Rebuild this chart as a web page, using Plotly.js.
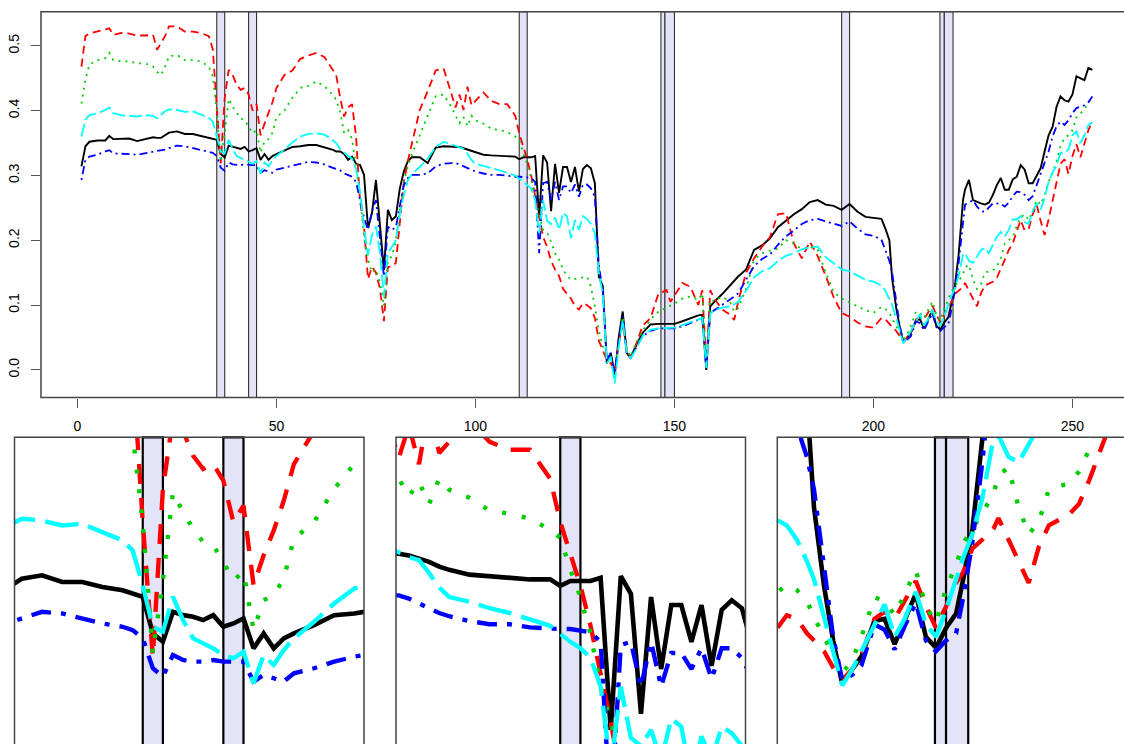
<!DOCTYPE html>
<html>
<head>
<meta charset="utf-8">
<script src="https://cdn.plot.ly/plotly-3.0.1.min.js"></script>
<style>
html,body{margin:0;padding:0;overflow:hidden;background:#fff;}
#chart{width:1140px;height:800px;}
</style>
</head>
<body>
<div id="chart"></div>
<script>
// ---- data (index along spectrum, five series) ----
const X = [1,2,3,5,7,8,9,11,13,15,17,19,20,21,22,23,25,27,29,31,33,34,
35,36,37,38,39,40,41,42,43,44,45,46,47,48,49,50,
52,54,56,58,60,62,64,
65,66,67,68,69,70,71,72,73,74,75,76,77,78,79,80,81,82,83,84,
86,88,90,92,94,
95,96,97,98,99,100,
102,104,106,108,110,
111,112,113,114,115,116,117,118,119,120,121,122,123,124,125,126,127,128,129,130,131,132,133,134,135,136,137,138,139,140,
142,144,146,147,148,149,150,152,154,156,157,158,159,160,162,164,165,166,168,
170,172,174,176,178,180,182,184,186,188,190,192,194,196,198,200,202,
203,204,204.7,205.7,206.6,207.5,208.5,209.4,210.7,211.7,212.7,213.7,214.8,215.8,216.8,217.8,218.8,219.5,220.4,221.4,222.5,
223,224,225,226,227,228,229,230,231,232,233,234,235,236,237,238,239,240,241,242,243,244,245,246,247,248,249,250,251,252,253,254,255];

const S1_BLACK = [0.314,0.345,0.352,0.354,0.354,0.361,0.356,0.356,0.357,0.353,0.356,0.359,0.358,0.358,0.362,0.366,0.368,0.364,0.364,0.361,0.359,0.357,
0.355,0.333,0.328,0.346,0.344,0.343,0.341,0.344,0.337,0.339,0.342,0.324,0.333,0.324,0.330,0.333,
0.338,0.344,0.345,0.347,0.347,0.344,0.340,
0.337,0.337,0.333,0.324,0.329,0.318,0.316,0.301,0.219,0.242,0.293,0.226,0.154,0.247,0.231,0.237,0.280,0.306,0.322,0.328,
0.328,0.319,0.343,0.345,0.345,
0.345,0.344,0.342,0.340,0.337,0.335,
0.332,0.331,0.330,0.329,0.329,
0.325,0.328,0.328,0.328,0.330,0.235,0.331,0.320,0.245,0.318,0.273,0.313,0.313,0.290,0.313,0.275,0.310,0.316,0.311,0.288,0.144,0.129,0.010,0.026,-0.008,0.050,0.090,0.026,0.018,0.033,
0.057,0.070,0.071,0.071,0.071,0.071,0.071,0.075,0.080,0.084,0.085,0.000,0.098,0.105,0.117,0.130,0.136,0.144,0.155,
0.185,0.192,0.203,0.220,0.230,0.240,0.248,0.259,0.262,0.255,0.253,0.247,0.256,0.244,0.236,0.234,0.233,
0.218,0.200,0.140,0.096,0.066,0.042,0.050,0.057,0.077,0.078,0.064,0.077,0.092,0.068,0.062,0.073,0.081,0.100,0.127,0.178,0.262,
0.278,0.293,0.262,0.259,0.257,0.255,0.258,0.270,0.285,0.296,0.278,0.278,0.294,0.298,0.316,0.309,0.288,0.288,0.300,0.311,
0.337,0.362,0.375,0.406,0.422,0.416,0.414,0.425,0.453,0.450,0.447,0.466,0.463];

const S2_RED = [0.468,0.515,0.519,0.522,0.525,0.527,0.517,0.520,0.519,0.516,0.516,0.517,0.494,0.505,0.515,0.530,0.530,0.522,0.522,0.520,0.515,0.495,
0.400,0.319,0.420,0.463,0.455,0.440,0.432,0.435,0.425,0.400,0.410,0.362,0.380,0.395,0.413,0.435,
0.455,0.462,0.480,0.485,0.489,0.483,0.465,
0.455,0.420,0.391,0.405,0.410,0.360,0.260,0.221,0.140,0.159,0.150,0.125,0.075,0.159,0.159,0.165,0.225,0.290,0.322,0.350,
0.401,0.430,0.462,0.465,0.425,
0.405,0.425,0.401,0.437,0.408,0.415,
0.428,0.415,0.410,0.410,0.392,
0.365,0.345,0.325,0.300,0.270,0.240,0.205,0.190,0.168,0.155,0.145,0.125,0.118,0.110,0.098,0.093,0.103,0.100,0.095,0.080,0.045,0.031,0.015,0.010,-0.003,0.040,0.072,0.032,0.020,0.033,
0.068,0.080,0.118,0.120,0.123,0.105,0.115,0.134,0.128,0.100,0.123,0.005,0.123,0.110,0.093,0.085,0.077,0.105,0.150,
0.172,0.190,0.205,0.240,0.242,0.195,0.172,0.198,0.175,0.145,0.112,0.088,0.082,0.073,0.067,0.065,0.080,
0.078,0.070,0.066,0.060,0.051,0.044,0.050,0.058,0.078,0.082,0.078,0.088,0.099,0.085,0.073,0.085,0.098,0.104,0.117,0.122,0.128,
0.134,0.122,0.110,0.098,0.118,0.130,0.133,0.136,0.142,0.155,0.170,0.185,0.195,0.214,0.231,0.215,0.218,0.240,0.255,0.230,
0.208,0.232,0.262,0.292,0.318,0.325,0.302,0.330,0.348,0.328,0.350,0.370,0.383];

const S3_GREEN = [0.411,0.448,0.471,0.478,0.481,0.489,0.478,0.476,0.476,0.473,0.473,0.468,0.460,0.455,0.468,0.484,0.486,0.478,0.478,0.476,0.468,0.453,
0.400,0.321,0.365,0.418,0.406,0.396,0.388,0.386,0.376,0.365,0.370,0.335,0.353,0.356,0.366,0.390,
0.400,0.420,0.435,0.438,0.445,0.438,0.425,
0.417,0.398,0.365,0.370,0.356,0.314,0.270,0.205,0.170,0.150,0.155,0.135,0.098,0.170,0.175,0.200,0.250,0.290,0.314,0.332,
0.362,0.395,0.422,0.425,0.405,
0.392,0.381,0.390,0.376,0.392,0.385,
0.380,0.372,0.370,0.367,0.360,
0.355,0.335,0.318,0.295,0.262,0.240,0.216,0.212,0.198,0.180,0.170,0.155,0.145,0.139,0.140,0.141,0.143,0.144,0.129,0.098,0.060,0.036,0.025,0.022,0.000,0.040,0.082,0.031,0.020,0.036,
0.060,0.078,0.090,0.093,0.096,0.100,0.102,0.110,0.113,0.108,0.118,0.005,0.108,0.106,0.113,0.105,0.090,0.095,0.125,
0.170,0.180,0.184,0.187,0.200,0.195,0.186,0.190,0.185,0.150,0.120,0.110,0.104,0.098,0.092,0.088,0.097,
0.094,0.088,0.079,0.068,0.058,0.048,0.055,0.068,0.090,0.088,0.080,0.092,0.105,0.085,0.076,0.095,0.108,0.120,0.128,0.137,0.147,
0.158,0.162,0.140,0.125,0.132,0.150,0.152,0.153,0.160,0.172,0.195,0.200,0.205,0.222,0.236,0.240,0.231,0.244,0.262,0.255,
0.270,0.290,0.303,0.322,0.345,0.358,0.362,0.370,0.390,0.396,0.402,0.412,0.422];

const S4_BLUE = [0.293,0.324,0.329,0.332,0.337,0.339,0.334,0.334,0.333,0.332,0.334,0.337,0.337,0.338,0.340,0.342,0.346,0.345,0.342,0.339,0.337,0.335,
0.330,0.312,0.307,0.320,0.317,0.316,0.316,0.317,0.316,0.316,0.316,0.304,0.308,0.306,0.304,0.309,
0.312,0.316,0.319,0.321,0.320,0.317,0.312,
0.310,0.308,0.303,0.300,0.298,0.290,0.262,0.235,0.216,0.245,0.262,0.208,0.144,0.221,0.216,0.220,0.255,0.285,0.296,0.301,
0.301,0.303,0.314,0.318,0.319,
0.319,0.317,0.314,0.311,0.308,0.306,
0.303,0.301,0.301,0.299,0.298,
0.298,0.298,0.297,0.296,0.290,0.180,0.288,0.290,0.262,0.290,0.262,0.283,0.283,0.273,0.286,0.267,0.286,0.286,0.280,0.267,0.160,0.123,0.015,0.026,-0.005,0.045,0.082,0.026,0.018,0.030,
0.052,0.060,0.064,0.064,0.064,0.064,0.064,0.067,0.072,0.078,0.080,0.003,0.087,0.092,0.100,0.108,0.113,0.118,0.138,
0.160,0.171,0.178,0.193,0.206,0.215,0.225,0.231,0.233,0.229,0.225,0.222,0.229,0.218,0.209,0.207,0.201,
0.185,0.168,0.150,0.105,0.068,0.044,0.047,0.052,0.075,0.072,0.061,0.074,0.087,0.066,0.060,0.066,0.070,0.090,0.120,0.165,0.225,
0.255,0.258,0.262,0.252,0.245,0.244,0.250,0.257,0.257,0.256,0.252,0.258,0.268,0.275,0.274,0.270,0.262,0.268,0.285,0.303,
0.319,0.337,0.360,0.376,0.383,0.378,0.385,0.396,0.404,0.406,0.408,0.413,0.422];

const S5_CYAN = [0.360,0.386,0.393,0.396,0.401,0.405,0.396,0.393,0.392,0.391,0.393,0.392,0.388,0.394,0.399,0.402,0.401,0.398,0.399,0.394,0.389,0.383,
0.362,0.337,0.334,0.355,0.341,0.330,0.327,0.324,0.320,0.318,0.322,0.303,0.320,0.314,0.323,0.330,
0.340,0.351,0.360,0.364,0.365,0.363,0.355,
0.350,0.341,0.335,0.330,0.326,0.310,0.275,0.220,0.177,0.208,0.221,0.180,0.113,0.180,0.190,0.200,0.240,0.270,0.292,0.302,
0.313,0.326,0.344,0.352,0.348,
0.346,0.343,0.341,0.333,0.324,0.318,
0.315,0.311,0.308,0.304,0.300,
0.295,0.290,0.286,0.280,0.262,0.211,0.262,0.230,0.225,0.235,0.216,0.242,0.237,0.203,0.231,0.216,0.237,0.233,0.225,0.211,0.149,0.118,0.010,0.020,-0.021,0.035,0.077,0.026,0.018,0.028,
0.052,0.062,0.064,0.064,0.064,0.064,0.065,0.069,0.074,0.078,0.080,0.003,0.087,0.092,0.096,0.098,0.101,0.105,0.122,
0.143,0.152,0.157,0.168,0.176,0.180,0.186,0.189,0.190,0.174,0.165,0.155,0.152,0.145,0.139,0.136,0.130,
0.122,0.110,0.100,0.080,0.060,0.041,0.050,0.060,0.075,0.086,0.068,0.078,0.093,0.075,0.068,0.083,0.100,0.112,0.125,0.145,0.178,
0.180,0.168,0.165,0.175,0.185,0.188,0.180,0.193,0.205,0.213,0.206,0.216,0.232,0.232,0.237,0.228,0.225,0.245,0.257,0.247,
0.265,0.290,0.305,0.315,0.335,0.335,0.340,0.362,0.368,0.350,0.362,0.378,0.382];

const SERIES = [S1_BLACK, S2_RED, S3_GREEN, S4_BLUE, S5_CYAN];
const COLORS = ['#000000', '#FF0000', '#00CD00', '#0000FF', '#00FFFF'];
SERIES.forEach((s, k) => { if (s.length !== X.length) console.error('length mismatch', k, s.length, X.length); });

// highlighted bands [from, to]
const BANDS = [[35,37],[43,45],[111,113],[146.6,147.6],[147.6,150],[192,194],[216.7,217.8],[217.8,220]];

const X_TICKS = [0,50,100,150,200,250];
const Y_TICKS = [0,0.1,0.2,0.3,0.4,0.5];
const Y_TICK_TEXT = ['0.0','0.1','0.2','0.3','0.4','0.5'];

// ---- layout (pixels -> fractions) ----
const W = 1140, H = 800;
const fx = p => p / W, fy = p => 1 - p / H;

const panels = [
  {xa:'x',  ya:'y',  xr:[-9.16,265.16], yr:[-0.0427,0.5527], px:[41,1132.8], py:[11.7,397.5], lw:1.9, main:true},
  {xa:'x2', ya:'y2', xr:[22.27,56.96],  yr:[0.2405,0.4511], px:[14.5,364],   py:[437.3,787], lw:4.6},
  {xa:'x3', ya:'y3', xr:[94.72,129.36], yr:[0.1993,0.4178], px:[396,745.5],  py:[437.3,787], lw:4.6},
  {xa:'x4', ya:'y4', xr:[201.06,235.75],yr:[-0.0154,0.1789],px:[777.3,1127], py:[437.3,787], lw:4.6}
];

const dashMain = ['solid','8px,5px','2px,5px','2px,4px,8px,4px','13px,4px'];
const dashIns  = ['solid','20px,14px','4px,16px','5px,10px,20px,10px','34px,10px'];

const traces = [];
const shapes = [];
const layout = {
  width: W, height: H,
  margin: {l:0, r:0, t:0, b:0},
  paper_bgcolor: '#fff', plot_bgcolor: 'rgba(0,0,0,0)',
  showlegend: false,
  font: {family: 'Liberation Sans, Arial, sans-serif', size: 14, color: '#000'},
  shapes: shapes
};

panels.forEach((p, i) => {
  const xk = i === 0 ? 'xaxis' : 'xaxis' + (i + 1);
  const yk = i === 0 ? 'yaxis' : 'yaxis' + (i + 1);
  const common = {showgrid:false, zeroline:false, showline:false, fixedrange:true};
  if (p.main) {
    layout[xk] = Object.assign({}, common, {
      domain:[fx(p.px[0]), fx(p.px[1])], range:p.xr, anchor:p.ya,
      tickmode:'array', tickvals:X_TICKS, ticks:'outside', ticklen:9, tickwidth:1, tickcolor:'#555',
      ticklabelstandoff: 7,
      tickfont:{size:14, color:'#000'}
    });
    layout[yk] = Object.assign({}, common, {
      domain:[fy(p.py[1]), fy(p.py[0])], range:p.yr, anchor:p.xa,
      tickmode:'array', tickvals:Y_TICKS, ticktext:Y_TICK_TEXT, tickangle:-90,
      ticks:'outside', ticklen:9, tickwidth:1, tickcolor:'#555',
      ticklabelstandoff: 6,
      tickfont:{size:14, color:'#000'}
    });
  } else {
    layout[xk] = Object.assign({}, common, {
      domain:[fx(p.px[0]), fx(p.px[1])], range:p.xr, anchor:p.ya,
      showticklabels:false, ticks:''
    });
    layout[yk] = Object.assign({}, common, {
      domain:[fy(p.py[1]), fy(p.py[0])], range:p.yr, anchor:p.xa,
      showticklabels:false, ticks:''
    });
  }

  // bands
  BANDS.forEach(b => {
    if (b[1] < p.xr[0] || b[0] > p.xr[1]) return;
    shapes.push({type:'rect', layer:'below', xref:p.xa, yref:p.ya + ' domain',
      x0:b[0], x1:b[1], y0:0, y1:1,
      fillcolor:'#E4E4F8',
      line:{color: p.main ? '#333' : '#000', width: p.main ? 1.1 : 2.2}});
  });

  // frame
  shapes.push({type:'rect', layer:'above', xref:p.xa + ' domain', yref:p.ya + ' domain',
    x0:0, x1:1, y0:0, y1:1, fillcolor:'rgba(0,0,0,0)',
    line:{color:'#444', width:1.5}});

  SERIES.forEach((s, k) => {
    traces.push({
      type:'scatter', mode:'lines', x:X, y:s, xaxis:p.xa, yaxis:p.ya,
      line:{color:COLORS[k], width: (k === 0 ? p.lw : p.lw * 0.95),
            dash: p.main ? dashMain[k] : dashIns[k]},
      hoverinfo:'skip', cliponaxis:true
    });
  });
});

Plotly.newPlot('chart', traces, layout, {staticPlot:true, displayModeBar:false});
</script>
</body>
</html>
